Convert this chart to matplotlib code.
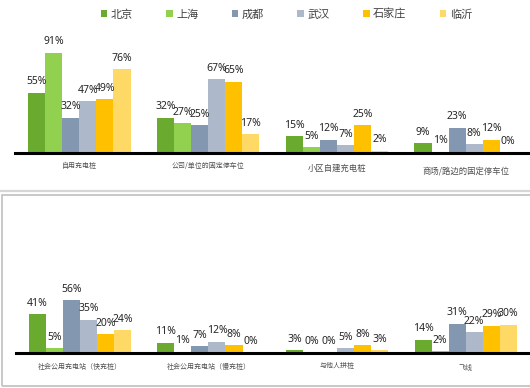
import matplotlib.pyplot as plt
from matplotlib.patches import Patch, Rectangle
from matplotlib.lines import Line2D

plt.rcParams['font.family'] = ['Noto Sans CJK SC', 'DejaVu Sans']

# series / cities
cities = ['北京', '上海', '成都', '武汉', '石家庄', '临沂']
colors = ['#6aaa2e', '#92d050', '#8497b0', '#adb9ca', '#ffc000', '#ffd966']

# top panel
top_cats = ['自用充电桩', '公司/单位的固定停车位', '小区自建充电桩', '商场/路边的固定停车位']
top_vals = {
    '北京': [55, 32, 15, 9],
    '上海': [91, 27, 5, 1],
    '成都': [32, 25, 12, 23],
    '武汉': [47, 67, 7, 8],
    '石家庄': [49, 65, 25, 12],
    '临沂': [76, 17, 2, 0],
}

# bottom panel
bot_cats = ['社会公用充电站（快充桩）', '社会公用充电站（慢充桩）', '与他人拼桩', '飞线']
bot_vals = {
    '北京': [41, 11, 3, 14],
    '上海': [5, 1, 0, 2],
    '成都': [56, 7, 0, 31],
    '武汉': [35, 12, 5, 22],
    '石家庄': [20, 8, 8, 29],
    '临沂': [24, 0, 3, 30],
}

W, H = 530, 388
fig = plt.figure(figsize=(W / 100, H / 100), dpi=100)


def px_axes(left, right, base, height):
    # positions given in pixels from the top-left corner
    return fig.add_axes([left / W, 1 - base / H, (right - left) / W, height / H])


def draw_panel(ax, cats, vals, label_sizes, label_dy):
    bw = 0.1325
    for i, city in enumerate(cities):
        xs = [k + (i - 2.5) * bw for k in range(len(cats))]
        bars = ax.bar(xs, vals[city], width=bw, color=colors[i], linewidth=0)
        for b, v in zip(bars, vals[city]):
            ax.annotate(f'{v}%', (b.get_x() + b.get_width() / 2, v),
                        xytext=(0, 4), textcoords='offset points',
                        ha='center', va='bottom', fontsize=7.5,
                        color='#262626', family=['Noto Sans', 'DejaVu Sans'])
    for k, c in enumerate(cats):
        ax.annotate(c, (k, 0), xycoords=('data', 'axes fraction'),
                    xytext=(0, -label_dy[k]), textcoords='offset points',
                    ha='center', va='center', fontsize=label_sizes[k],
                    color='#505050')
    ax.set_xlim(-0.5, 3.5)
    ax.set_ylim(0, 100)
    for s in ['top', 'right', 'left']:
        ax.spines[s].set_visible(False)
    ax.spines['bottom'].set_linewidth(2.2)
    ax.spines['bottom'].set_color('black')
    ax.set_xticks([])
    ax.set_yticks([])
    ax.patch.set_alpha(0)


ax1 = px_axes(15, 530, 153, 110)
draw_panel(ax1, top_cats, top_vals, [5, 5, 6, 6], [9.5, 9.5, 11, 13])

ax2 = px_axes(15.5, 530, 353, 94.5)
draw_panel(ax2, bot_cats, bot_vals, [5, 5, 5, 5], [10, 10, 9, 11])

# legend
handles = [Patch(facecolor=c, edgecolor='none') for c in colors]
fig.legend(handles, cities, loc='center', bbox_to_anchor=(0.54, 1 - 14 / H),
           ncol=6, frameon=False, fontsize=8, handlelength=0.6, handleheight=0.6,
           handletextpad=0.3, columnspacing=3.0, labelcolor='#404040')

# panel frames
fig.add_artist(Line2D([0, 1], [1 - 190.5 / H] * 2, transform=fig.transFigure,
                      color='#d6d6d6', lw=1.6))
fig.add_artist(Rectangle((1.5 / W, 1 - 385.5 / H), 540 / W, 190.5 / H,
                         transform=fig.transFigure, fill=False,
                         edgecolor='#c4c4c4', lw=1.3))

fig.savefig('out.png', dpi=100)
